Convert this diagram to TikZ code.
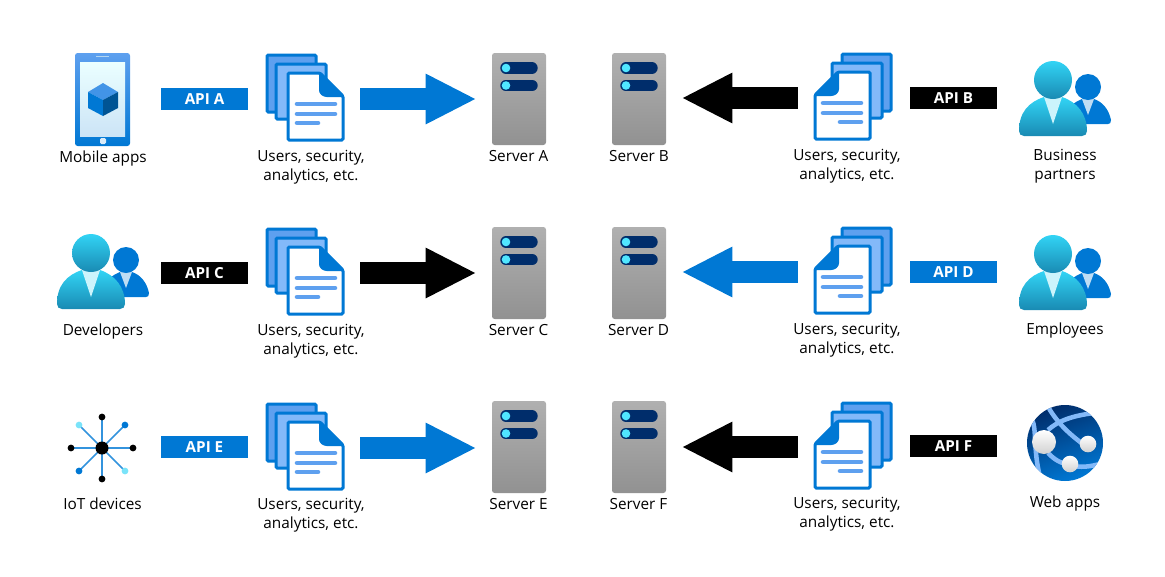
\documentclass[tikz,border=0pt]{standalone}
\usepackage{fontspec}
\setmainfont{Open Sans}
\usetikzlibrary{arrows.meta}
\definecolor{azure}{HTML}{0078D4}
\definecolor{pagedark}{HTML}{5EA0EF}
\definecolor{pagelight}{HTML}{83B9F9}
\definecolor{srvnavy}{HTML}{002D6B}
\definecolor{srvled}{HTML}{50E6FF}
\definecolor{skytop}{HTML}{32D4F5}
\definecolor{skybot}{HTML}{198AB3}
\tikzset{
  every node/.style = {font=\fontsize{11.5pt}{14.25pt}\selectfont, align=center, inner sep=0pt},
  lbl/.style = {anchor=base},
  apibox/.style = {minimum width=65.25pt, minimum height=16.5pt, text=white, font=\fontsize{11.4pt}{12pt}\selectfont\bfseries},
  anchorbox/.style = {minimum width=#1*0.75pt, minimum height=60pt},
  bigarrow/.style = {line width=16.5pt, -{Triangle[length=38pt,width=35pt]}, shorten <=12pt, shorten >=11.5pt},
  docs/.pic = {
    \filldraw[azure, fill=pagedark, line width=2.25pt, rounded corners=1pt] (-38,-44) rectangle (11,13);
    \filldraw[azure, fill=pagelight, line width=2.25pt, rounded corners=1pt] (-29,-35) rectangle (21,20);
    \filldraw[azure, fill=white, line width=2.25pt, rounded corners=1pt] (-17,-26) -- (15,-26) -- (38,-3) -- (38,41) -- (-17,41) -- cycle;
    \fill[azure, rounded corners=2pt] (14,-27) -- (14,-6) -- (19,-2) -- (39,-2) -- cycle;
    \draw[pagedark, line width=3.4pt, line cap=round] (-8,5) -- (30,5) (-8,15) -- (30,15) (-8,24) -- (13,24);
  },
  server/.pic = {
    \shade[top color=black!31, bottom color=black!43, rounded corners=2pt] (-27,-46) rectangle (27,46);
    \foreach \yy in {-31,-13.5} {
      \draw[srvnavy, line width=8.6pt, line cap=round] (-13,\yy) -- (13,\yy);
      \fill[srvled] (-13,\yy) circle (4.3);
    }
  },
  phone/.pic = {
    \shade[top color=pagedark, bottom color=azure, rounded corners=2pt] (-28,-47) rectangle (27,46);
    \shade[top color=cyan!8, bottom color=azure!20] (-23,-38) rectangle (22,36);
    \draw[white!70!azure, line width=1.2pt] (-7,-43.5) -- (6,-43.5);
    \fill[white!85!azure, rounded corners=1pt] (-3,38) rectangle (3,44);
    \fill[pagedark!70!azure] (0,-17) -- (15,-8) -- (0,0) -- (-15,-8) -- cycle;
    \fill[azure] (-15,-8) -- (0,0) -- (0,16) -- (-15,8) -- cycle;
    \fill[azure!70!black] (15,-8) -- (0,0) -- (0,16) -- (15,8) -- cycle;
  },
  people/.pic = {
    \fill[azure] (5,24) -- (8,4) .. controls (10,2) and (13,1) .. (17,-1) -- (29,-1) .. controls (38,2) and (44,10) .. (46,20) .. controls (46,23) and (45,24) .. (43,24) -- cycle;
    \fill[azure!25!white] (17,-1) -- (29,-1) -- (23,15) -- cycle;
    \fill[azure] (23,-13) circle (13);
    \shade[top color=skytop, bottom color=skybot] (-46,31) .. controls (-46,12) and (-36,2) .. (-21,-3) -- (-3,-3) .. controls (12,2) and (22,14) .. (22,31) .. controls (22,34) and (20,36) .. (17,36) -- (-41,36) .. controls (-44,36) and (-46,34) .. (-46,31) -- cycle;
    \fill[white!75!skytop] (-21,-3) -- (-3,-3) -- (-12,24) -- cycle;
    \shade[top color=skytop, bottom color=skybot] (-12,-20) circle (19);
  },
  iot/.pic = {
    \foreach \aa in {0,90,180,270} {
      \draw[azure!80!white, line width=1.3pt] (0,0) -- (\aa:31);
      \fill[black] (\aa:31) circle (3.4);
    }
    \foreach \aa in {135,315} {
      \draw[azure!80!white, line width=1.3pt] (0,0) -- (\aa:32.5);
      \fill[azure] (\aa:32.5) circle (3.4);
    }
    \foreach \aa in {45,225} {
      \draw[azure!80!white, line width=1.3pt] (0,0) -- (\aa:32.5);
      \fill[skytop!65!white] (\aa:32.5) circle (3.4);
    }
    \fill[black] (0,0) circle (6.5);
  },
  webapp/.pic = {
    \shade[left color=srvnavy, right color=azure, shading angle=20] (0,0) circle (38);
    \begin{scope}
      \clip (0,0) circle (38);
      \draw[pagelight, line width=3.4pt] (-17,-13) .. controls (-8,-21) and (5,-28) .. (38,-31);
      \draw[pagelight, line width=3.4pt] (-18,-38) .. controls (-8,-20) and (5,-8) .. (22,4);
      \draw[pagelight, line width=3.4pt] (-17,10) .. controls (-10,17) and (-5,20) .. (5,22) .. controls (15,25) and (25,24) .. (38,20);
      \draw[pagelight, line width=3.4pt] (-33,-24) .. controls (-28,-12) and (-32,6) .. (-25,34);
    \end{scope}
    \shade[top color=white, bottom color=black!18] (-21,-1) circle (12);
    \shade[top color=white, bottom color=black!18] (23,1) circle (8.3);
    \shade[top color=white, bottom color=black!18] (5,21) circle (8.3);
  }
}
\begin{document}
\begin{tikzpicture}[x=0.75pt, y=-0.75pt]
  \useasboundingbox (0,0) rectangle (1165,576);
  % servers
  \node[anchorbox=54] (srvA) at (519,99) {};
  \node[anchorbox=54] (srvB) at (639,99) {};
  \node[anchorbox=54] (srvC) at (519,273) {};
  \node[anchorbox=54] (srvD) at (639,273) {};
  \node[anchorbox=54] (srvE) at (519,447) {};
  \node[anchorbox=54] (srvF) at (639,447) {};
  \foreach \nn in {srvA,srvB,srvC,srvD,srvE,srvF} \pic at (\nn) {server};
  \node[lbl] (lblA) at (518.5,161) {Server A};
  \node[lbl] (lblB) at (639,161) {Server B};
  \node[lbl] (lblC) at (518.5,335) {Server C};
  \node[lbl] (lblD) at (638.5,335) {Server D};
  \node[lbl] (lblE) at (518.5,509) {Server E};
  \node[lbl] (lblF) at (638.5,509) {Server F};
  % policies
  \node[anchorbox=78] (docA) at (305,99) {};
  \node[anchorbox=78] (docB) at (853,98) {};
  \node[anchorbox=78] (docC) at (305,273) {};
  \node[anchorbox=78] (docD) at (853,272) {};
  \node[anchorbox=78] (docE) at (305,448) {};
  \node[anchorbox=78] (docF) at (853,447) {};
  \foreach \nn in {docA,docC,docE} \pic at (\nn) {docs};
  \foreach \nn in {docB,docD,docF} \pic[xscale=-1] at (\nn) {docs};
  \node (txtA) at (311,167.5) {Users, security,\\analytics, etc.};
  \node (txtB) at (847,166.5) {Users, security,\\analytics, etc.};
  \node (txtC) at (311,341.5) {Users, security,\\analytics, etc.};
  \node (txtD) at (847,340.5) {Users, security,\\analytics, etc.};
  \node (txtE) at (311,515.5) {Users, security,\\analytics, etc.};
  \node (txtF) at (847,514.5) {Users, security,\\analytics, etc.};
  % apis
  \node[apibox, fill=azure] (apiA) at (204.5,99) {API A};
  \node[apibox, fill=black] (apiB) at (953.5,98) {API B};
  \node[apibox, fill=black] (apiC) at (204.5,273) {API C};
  \node[apibox, fill=azure] (apiD) at (953.5,272) {API D};
  \node[apibox, fill=azure] (apiE) at (204.5,447) {API E};
  \node[apibox, fill=black] (apiF) at (953.5,446) {API F};
  % arrows
  \draw[bigarrow, azure] (docA.east) -- (docA.east -| srvA.west);
  \draw[bigarrow, black] (docB.west) -- (docB.west -| srvB.east);
  \draw[bigarrow, black] (docC.east) -- (docC.east -| srvC.west);
  \draw[bigarrow, azure] (docD.west) -- (docD.west -| srvD.east);
  \draw[bigarrow, azure] (docE.east) -- (docE.east -| srvE.west);
  \draw[bigarrow, black] (docF.west) -- (docF.west -| srvF.east);
  % clients
  \pic at (103,100) {phone};
  \node[lbl] (mobile) at (103,162) {Mobile apps};
  \pic at (1065,100) {people};
  \node (partners) at (1065,166.5) {Business\\partners};
  \pic at (103,273) {people};
  \node[lbl] (devs) at (103,335) {Developers};
  \pic at (1065,274) {people};
  \node[lbl] (staff) at (1065,334) {Employees};
  \pic at (102,448) {iot};
  \node[lbl] (things) at (102.5,509) {IoT devices};
  \pic at (1065,443) {webapp};
  \node[lbl] (web) at (1065,507) {Web apps};
\end{tikzpicture}
\end{document}
